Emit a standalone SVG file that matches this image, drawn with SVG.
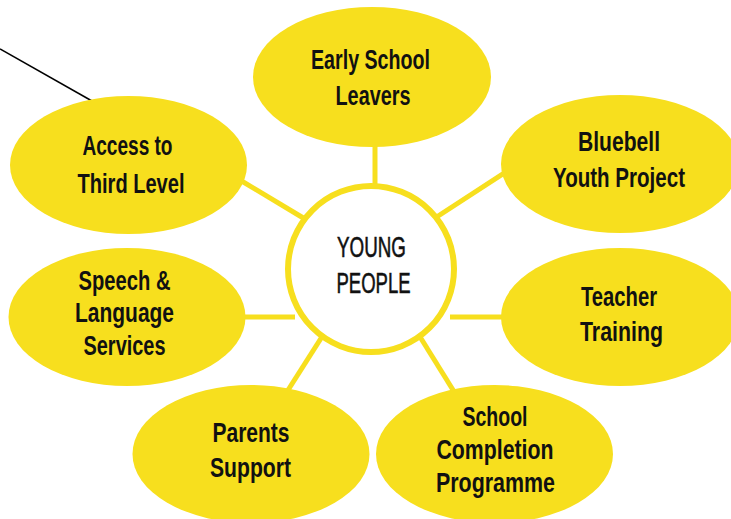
<svg xmlns="http://www.w3.org/2000/svg" width="731" height="519" viewBox="0 0 731 519">
<style>
.node ellipse{fill:#F7DF1E;}
.lbl{font-family:"Liberation Sans",Arial,sans-serif;font-size:28px;font-weight:bold;fill:#111;text-anchor:middle;}
.ctr{font-family:"Liberation Sans",Arial,sans-serif;font-size:30px;fill:#111;stroke:#111;stroke-width:0.6;text-anchor:middle;}
.conn{stroke:#F7DF1E;stroke-width:5;fill:none;}
</style>
<rect width="731" height="519" fill="#fff"/>
<g id="connectors">
<line x1="0" y1="49" x2="92" y2="101" stroke="#000" stroke-width="1.5"/>
<line class="conn" x1="375" y1="140" x2="375" y2="190"/>
<line class="conn" x1="230" y1="174" x2="310" y2="222"/>
<line class="conn" x1="432" y1="220" x2="512" y2="168"/>
<line class="conn" x1="240" y1="317" x2="295" y2="317"/>
<line class="conn" x1="450" y1="317" x2="510" y2="317"/>
<line class="conn" x1="325" y1="332" x2="283" y2="398"/>
<line class="conn" x1="417" y1="332" x2="458" y2="398"/>
</g>
<g id="young-people">
<circle cx="371" cy="269" r="83" fill="#fff" stroke="#F7DF1E" stroke-width="6"/>
<text class="ctr" x="371.5" y="257" textLength="69" lengthAdjust="spacingAndGlyphs">YOUNG</text>
<text class="ctr" x="373.5" y="293" textLength="74" lengthAdjust="spacingAndGlyphs">PEOPLE</text>
</g>
<g id="early-school-leavers" class="node">
<ellipse cx="372" cy="77" rx="119" ry="70"/>
<text class="lbl" x="370.5" y="69" textLength="119" lengthAdjust="spacingAndGlyphs">Early School</text>
<text class="lbl" x="373" y="105" textLength="75" lengthAdjust="spacingAndGlyphs">Leavers</text>
</g>
<g id="access-third-level" class="node">
<ellipse cx="128.5" cy="165" rx="118.5" ry="69"/>
<text class="lbl" x="127.5" y="155" textLength="90" lengthAdjust="spacingAndGlyphs">Access to</text>
<text class="lbl" x="131" y="192.5" textLength="107" lengthAdjust="spacingAndGlyphs">Third Level</text>
</g>
<g id="bluebell-youth-project" class="node">
<ellipse cx="620" cy="164" rx="119" ry="69"/>
<text class="lbl" x="619" y="150.5" textLength="82" lengthAdjust="spacingAndGlyphs">Bluebell</text>
<text class="lbl" x="619" y="186.5" textLength="132" lengthAdjust="spacingAndGlyphs">Youth Project</text>
</g>
<g id="speech-language-services" class="node">
<ellipse cx="127" cy="317" rx="118.5" ry="69"/>
<text class="lbl" x="124.5" y="289.5" textLength="92" lengthAdjust="spacingAndGlyphs">Speech &amp;</text>
<text class="lbl" x="124.5" y="322" textLength="99" lengthAdjust="spacingAndGlyphs">Language</text>
<text class="lbl" x="124.5" y="355" textLength="82" lengthAdjust="spacingAndGlyphs">Services</text>
</g>
<g id="teacher-training" class="node">
<ellipse cx="620" cy="317" rx="119" ry="69"/>
<text class="lbl" x="619" y="306" textLength="76" lengthAdjust="spacingAndGlyphs">Teacher</text>
<text class="lbl" x="621.5" y="341" textLength="83" lengthAdjust="spacingAndGlyphs">Training</text>
</g>
<g id="parents-support" class="node">
<ellipse cx="251" cy="454" rx="118.5" ry="69"/>
<text class="lbl" x="251" y="441.5" textLength="77" lengthAdjust="spacingAndGlyphs">Parents</text>
<text class="lbl" x="250.5" y="477" textLength="81" lengthAdjust="spacingAndGlyphs">Support</text>
</g>
<g id="school-completion-programme" class="node">
<ellipse cx="494.5" cy="454" rx="118.5" ry="69"/>
<text class="lbl" x="495" y="426" textLength="65" lengthAdjust="spacingAndGlyphs">School</text>
<text class="lbl" x="495" y="459" textLength="117" lengthAdjust="spacingAndGlyphs">Completion</text>
<text class="lbl" x="495.5" y="492" textLength="119" lengthAdjust="spacingAndGlyphs">Programme</text>
</g>
</svg>
